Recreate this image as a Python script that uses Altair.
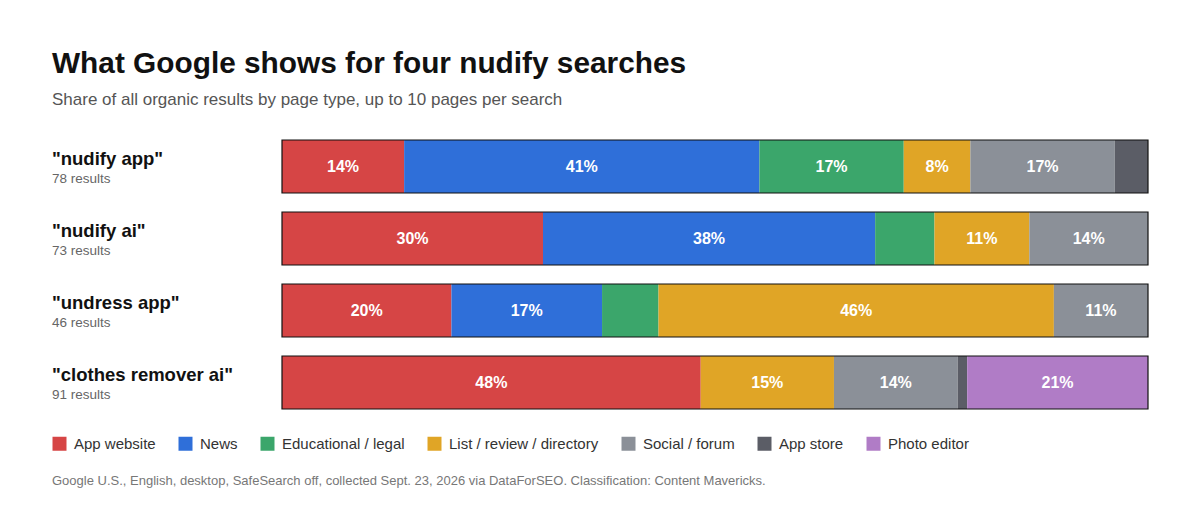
import pandas as pd
import altair as alt

# Data (result counts per page type)
queries = ['"nudify app"', '"nudify ai"', '"undress app"', '"clothes remover ai"']
totals = [78, 73, 46, 91]
categories = ["App website", "News", "Educational / legal", "List / review / directory",
              "Social / forum", "App store", "Photo editor"]
colors = ["#d64545", "#2f6fd9", "#3ba66b", "#e0a526", "#8b9098", "#5b5d66", "#b07cc6"]
counts_nudify_app = [11, 32, 13, 6, 13, 3, 0]
counts_nudify_ai = [22, 28, 5, 8, 10, 0, 0]
counts_undress_app = [9, 8, 3, 21, 5, 0, 0]
counts_clothes_remover = [44, 0, 0, 14, 13, 1, 19]

title = "What Google shows for four nudify searches"
subtitle = "Share of all organic results by page type, up to 10 pages per search"
footer = ("Google U.S., English, desktop, SafeSearch off, collected Sept. 23, 2026 via DataForSEO. "
          "Classification: Content Mavericks.")

FONT = "Liberation Sans"
LEFT = -230  # text column, relative to the plot area

all_counts = [counts_nudify_app, counts_nudify_ai, counts_undress_app, counts_clothes_remover]

# build stacked segments
rows = []
for q, total, counts in zip(queries, totals, all_counts):
    start = 0.0
    for cat, n in zip(categories, counts):
        if n == 0:
            continue
        share = n / total
        rows.append({
            "query": q, "category": cat, "x0": start, "x1": start + share,
            "mid": start + share / 2, "share": share,
            "label": f"{round(share * 100):.0f}%" if share >= 0.075 else "",
        })
        start += share
seg = pd.DataFrame(rows)

row_df = pd.DataFrame({
    "query": queries,
    "sub": [f"{t} results" for t in totals],
    "x0": [0.0] * 4,
    "x1": [1.0] * 4,
})

y_enc = alt.Y("query:N", sort=queries, axis=None,
              scale=alt.Scale(paddingInner=19 / 72, paddingOuter=10 / 72))
x_scale = alt.Scale(domain=[0, 1], nice=False, zero=False)

bars = alt.Chart(seg).mark_bar(cornerRadius=0).encode(
    x=alt.X("x0:Q", scale=x_scale, axis=None),
    x2="x1:Q",
    y=y_enc,
    color=alt.Color("category:N",
                    scale=alt.Scale(domain=categories, range=colors),
                    legend=alt.Legend(
                        title=None, orient="none", direction="horizontal", columns=7,
                        legendX=LEFT, legendY=306,
                        symbolType="square", symbolSize=196, symbolStrokeWidth=0,
                        symbolOpacity=1, labelFont=FONT, labelFontSize=15,
                        labelColor="#333333", labelOffset=7, columnPadding=22,
                    )),
)

outline = alt.Chart(row_df).mark_bar(fill=None, stroke="#111111", strokeWidth=1.2).encode(
    x=alt.X("x0:Q", scale=x_scale, axis=None),
    x2="x1:Q",
    y=y_enc,
)

pct = alt.Chart(seg).mark_text(font=FONT, fontSize=16, fontWeight="bold",
                               color="white", baseline="middle").encode(
    x=alt.X("mid:Q", scale=x_scale, axis=None),
    y=y_enc,
    text="label:N",
)

row_names = alt.Chart(row_df).mark_text(font=FONT, fontSize=18.5, fontWeight="bold",
                                        color="#111111", align="left", baseline="middle",
                                        dy=-8).encode(
    x=alt.value(LEFT), y=y_enc, text="query:N",
)

row_subs = alt.Chart(row_df).mark_text(font=FONT, fontSize=13.5, color="#666666",
                                       align="left", baseline="middle", dy=12).encode(
    x=alt.value(LEFT), y=y_enc, text="sub:N",
)

head = alt.Chart(pd.DataFrame({"t": [title]})).mark_text(
    font=FONT, fontSize=29.8, fontWeight="bold", color="#111111", align="left",
    baseline="alphabetic").encode(x=alt.value(LEFT), y=alt.value(-57), text="t:N")

sub = alt.Chart(pd.DataFrame({"t": [subtitle]})).mark_text(
    font=FONT, fontSize=17, color="#555555", align="left",
    baseline="alphabetic").encode(x=alt.value(LEFT), y=alt.value(-25), text="t:N")

foot = alt.Chart(pd.DataFrame({"t": [footer]})).mark_text(
    font=FONT, fontSize=13, color="#777777", align="left",
    baseline="alphabetic").encode(x=alt.value(LEFT), y=alt.value(355), text="t:N")

chart = alt.layer(bars, outline, pct, row_names, row_subs, head, sub, foot).properties(
    width=866, height=289,
    autosize=alt.AutoSizeParams(type="none"),
    padding={"left": 274, "top": 122, "right": 44, "bottom": 98},
    background="white",
).configure_view(stroke=None)

chart.save("out.html", embed_options={"renderer": "svg", "actions": False})
